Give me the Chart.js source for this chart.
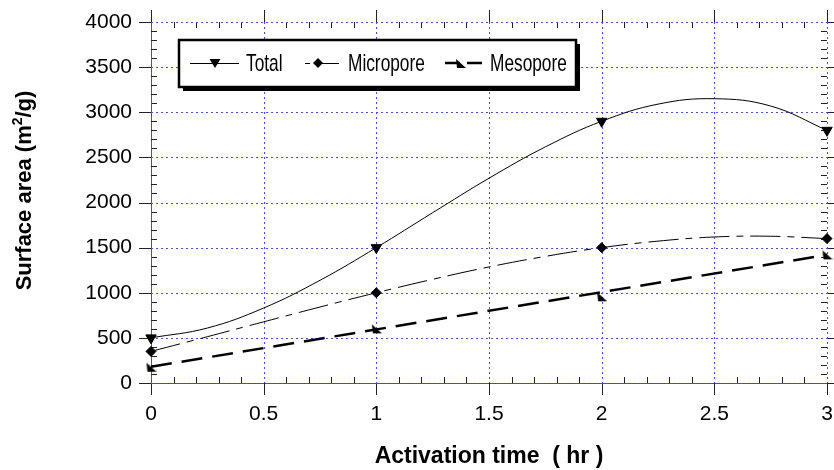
<!DOCTYPE html>
<html>
<head>
<meta charset="utf-8">
<script src="https://cdn.jsdelivr.net/npm/chart.js@4.4.1/dist/chart.umd.min.js"></script>
<style>
  html, body { margin: 0; padding: 0; background: #fff; }
  #wrap { width: 834px; height: 470px; position: relative; }
</style>
</head>
<body>
<div id="wrap"><canvas id="chart_surfaceArea"></canvas></div>
<script>
// values
var seriesNames = ['Total', 'Micropore', 'Mesopore'];
var pointX = [0, 1, 2, 3];
var totalPts = [500, 1500, 2900, 2800];
var microPts = [350, 1000, 1500, 1600];
var mesoPts = [175, 600, 955, 1420];

// fitted curves as traced on the picture
var curveX = [0, 0.25, 0.5, 0.75, 1, 1.25, 1.5, 1.75, 2, 2.25, 2.5, 2.75, 3];
var totalCurve = [500, 609, 831, 1138, 1500, 1887, 2269, 2616, 2900, 3090, 3150, 3069, 2800];
var microCurve = [350, 513, 678, 842, 1000, 1149, 1286, 1403, 1500, 1572, 1618, 1626, 1600];
var mesoLineX = [0, 3];
var mesoLine = [180, 1420];

var xMajor = [0, 0.5, 1, 1.5, 2, 2.5, 3];
var yMajor = [0, 500, 1000, 1500, 2000, 2500, 3000, 3500, 4000];

var FONT = '"Liberation Sans", Arial, sans-serif';

function pts(xs, ys) {
    return xs.map(function (x, i) { return {x: x, y: ys[i]}; });
}

// half triangle marker used for mesopore
var mesoMark = document.createElement('canvas');
mesoMark.width = 11; mesoMark.height = 11;
(function () {
    var c = mesoMark.getContext('2d');
    c.fillStyle = '#000';
    c.beginPath();
    c.moveTo(1, 1); c.lineTo(2, 10); c.lineTo(11, 10); c.closePath();
    c.fill();
})();

function drawMarker(ctx, kind, x, y) {
    ctx.save();
    ctx.fillStyle = '#000';
    ctx.beginPath();
    if (kind === 0) {
        ctx.moveTo(x - 5.5, y - 4); ctx.lineTo(x + 5.5, y - 4); ctx.lineTo(x, y + 5);
    } else if (kind === 1) {
        ctx.moveTo(x, y - 5); ctx.lineTo(x + 5, y); ctx.lineTo(x, y + 5); ctx.lineTo(x - 5, y);
    } else {
        ctx.restore();
        ctx.drawImage(mesoMark, x - 5, y - 5);
        return;
    }
    ctx.closePath();
    ctx.fill();
    ctx.restore();
}

function narrowText(ctx, text, x, y) {
    ctx.save();
    ctx.translate(x, y);
    ctx.scale(0.72, 1);
    ctx.fillText(text, 0, 0);
    ctx.restore();
}

var axisPlugin = {
    id: 'axisPlugin',
    beforeDatasetsDraw: function (chart) {
        var ctx = chart.ctx, a = chart.chartArea;
        var xs = chart.scales.x, ys = chart.scales.y;
        ctx.save();
        // solid axes
        ctx.strokeStyle = '#555';
        ctx.lineWidth = 1;
        ctx.beginPath();
        ctx.moveTo(a.left + 0.5, a.top - 12); ctx.lineTo(a.left + 0.5, a.bottom + 12);
        ctx.moveTo(a.left - 12, a.bottom + 0.5); ctx.lineTo(a.right, a.bottom + 0.5);
        ctx.stroke();
        // ticks
        ctx.strokeStyle = '#222';
        ctx.beginPath();
        var v, p;
        for (v = 0; v <= 30; v++) {
            p = Math.round(xs.getPixelForValue(v / 10)) + 0.5;
            if (v % 5 === 0) {
                ctx.moveTo(p, a.bottom); ctx.lineTo(p, a.bottom + 12);
                ctx.moveTo(p, a.top); ctx.lineTo(p, a.top - 12);
            } else {
                ctx.moveTo(p, a.bottom); ctx.lineTo(p, a.bottom - 6);
                ctx.moveTo(p, a.top); ctx.lineTo(p, a.top + 6);
            }
        }
        for (v = 0; v <= 40; v++) {
            p = Math.round(ys.getPixelForValue(v * 100)) + 0.5;
            if (v % 5 === 0) {
                ctx.moveTo(a.left, p); ctx.lineTo(a.left - 12, p);
                ctx.moveTo(a.right, p); ctx.lineTo(a.right + 12, p);
            } else {
                ctx.moveTo(a.left, p); ctx.lineTo(a.left + 6, p);
                ctx.moveTo(a.right, p); ctx.lineTo(a.right - 6, p);
            }
        }
        ctx.stroke();
        // dotted blue grid
        ctx.strokeStyle = '#4848ff';
        ctx.setLineDash([2, 3]);
        ctx.beginPath();
        xMajor.forEach(function (t) {
            var px = Math.round(xs.getPixelForValue(t)) + 0.5;
            ctx.moveTo(px, a.top); ctx.lineTo(px, a.bottom);
        });
        yMajor.forEach(function (t) {
            var py = Math.round(ys.getPixelForValue(t)) + 0.5;
            ctx.moveTo(a.left, py); ctx.lineTo(a.right, py);
        });
        ctx.stroke();
        ctx.restore();
    },
    afterDraw: function (chart) {
        var ctx = chart.ctx, a = chart.chartArea;
        ctx.save();

        // y axis title with superscript
        ctx.translate(24, (a.top + a.bottom) / 2 - 12);
        ctx.rotate(-Math.PI / 2);
        ctx.fillStyle = '#000';
        ctx.textBaseline = 'middle';
        var big = 'bold 22px ' + FONT, small = 'bold 14px ' + FONT;
        var t1 = 'Surface area (m', t2 = '2', t3 = '/g)';
        ctx.font = big; var w1 = ctx.measureText(t1).width, w3 = ctx.measureText(t3).width;
        ctx.font = small; var w2 = ctx.measureText(t2).width;
        var sx = -(w1 + w2 + w3) / 2;
        ctx.font = big; ctx.fillText(t1, sx, 1);
        ctx.font = small; ctx.fillText(t2, sx + w1, -6);
        ctx.font = big; ctx.fillText(t3, sx + w1 + w2, 1);
        ctx.restore();

        // legend box with shadow
        ctx.save();
        var bx = 179, by = 40, bw = 397, bh = 47;
        ctx.fillStyle = '#000';
        ctx.fillRect(bx + 4, by + 4, bw, bh);
        ctx.fillStyle = '#fff';
        ctx.fillRect(bx, by, bw, bh);
        ctx.strokeStyle = '#000';
        ctx.lineWidth = 2.5;
        ctx.strokeRect(bx, by, bw, bh);

        var ly = 63;
        ctx.lineWidth = 1;
        ctx.beginPath();
        ctx.moveTo(190, ly + 0.5); ctx.lineTo(239, ly + 0.5);
        ctx.moveTo(305, ly + 0.5); ctx.lineTo(310, ly + 0.5);
        ctx.moveTo(318, ly + 0.5); ctx.lineTo(339, ly + 0.5);
        ctx.stroke();
        ctx.lineWidth = 2.5;
        ctx.beginPath();
        ctx.moveTo(445, ly); ctx.lineTo(460, ly);
        ctx.moveTo(467, ly); ctx.lineTo(482, ly);
        ctx.stroke();
        drawMarker(ctx, 0, 215, ly);
        drawMarker(ctx, 1, 318, ly);
        drawMarker(ctx, 2, 460, ly);

        ctx.fillStyle = '#000';
        ctx.font = '24px ' + FONT;
        ctx.textBaseline = 'middle';
        narrowText(ctx, seriesNames[0], 246, ly + 1);
        narrowText(ctx, seriesNames[1], 348, ly + 1);
        narrowText(ctx, seriesNames[2], 490, ly + 1);
        ctx.restore();
    }
};

function noPadding(scale) {
    scale.paddingLeft = 0;
    scale.paddingRight = 0;
    scale.paddingTop = 0;
    scale.paddingBottom = 0;
}

var chart_surfaceArea = new Chart(document.getElementById('chart_surfaceArea'), {
    type: 'scatter',
    data: {
        datasets: [
            {
                label: seriesNames[0] + ' fit',
                data: pts(curveX, totalCurve),
                showLine: true,
                borderColor: '#000',
                borderWidth: 1,
                tension: 0.4,
                pointRadius: 0
            },
            {
                label: seriesNames[1] + ' fit',
                data: pts(curveX, microCurve),
                showLine: true,
                borderColor: '#000',
                borderWidth: 1,
                borderDash: [30, 7, 7, 7],
                tension: 0.4,
                pointRadius: 0
            },
            {
                label: seriesNames[2] + ' fit',
                data: pts(mesoLineX, mesoLine),
                showLine: true,
                borderColor: '#000',
                borderWidth: 2.5,
                borderDash: [21, 10],
                pointRadius: 0
            },
            {
                label: seriesNames[0],
                data: pts(pointX, totalPts),
                pointStyle: 'triangle',
                rotation: 180,
                radius: 6,
                backgroundColor: '#000',
                borderColor: '#000'
            },
            {
                label: seriesNames[1],
                data: pts(pointX, microPts),
                pointStyle: 'rectRot',
                radius: 5,
                backgroundColor: '#000',
                borderColor: '#000'
            },
            {
                label: seriesNames[2],
                data: pts(pointX, mesoPts),
                pointStyle: mesoMark,
                backgroundColor: '#000',
                borderColor: '#000'
            }
        ]
    },
    options: {
        animation: false,
        responsive: true,
        maintainAspectRatio: false,
        clip: false,
        layout: {
            padding: {top: 22, right: 5, bottom: 0, left: 0}
        },
        plugins: {
            legend: {display: false},
            tooltip: {enabled: false}
        },
        scales: {
            x: {
                type: 'linear',
                min: 0,
                max: 3,
                grid: {display: false, drawTicks: false},
                border: {display: false},
                ticks: {
                    stepSize: 0.5,
                    padding: 19,
                    color: '#000',
                    font: {family: FONT, size: 21},
                    callback: function (value) { return String(Math.round(value * 10) / 10); }
                },
                title: {
                    display: true,
                    text: 'Activation time  ( hr )',
                    color: '#000',
                    padding: {top: 0, bottom: 0},
                    font: {family: FONT, size: 23, weight: 'bold'}
                },
                afterFit: function (scale) { scale.height = 87; noPadding(scale); }
            },
            y: {
                type: 'linear',
                min: 0,
                max: 4000,
                grid: {display: false, drawTicks: false},
                border: {display: false},
                ticks: {
                    stepSize: 500,
                    padding: 19,
                    color: '#000',
                    font: {family: FONT, size: 21},
                    callback: function (value) { return String(value); }
                },
                title: {display: false},
                afterFit: function (scale) { scale.width = 151; noPadding(scale); }
            }
        }
    },
    plugins: [axisPlugin, {
        id: 'whiteBg',
        beforeDraw: function (chart) {
            var ctx = chart.canvas.getContext('2d');
            ctx.save();
            ctx.globalCompositeOperation = 'destination-over';
            ctx.fillStyle = 'white';
            ctx.fillRect(0, 0, chart.canvas.width, chart.canvas.height);
            ctx.restore();
        }
    }]
});
</script>
</body>
</html>
